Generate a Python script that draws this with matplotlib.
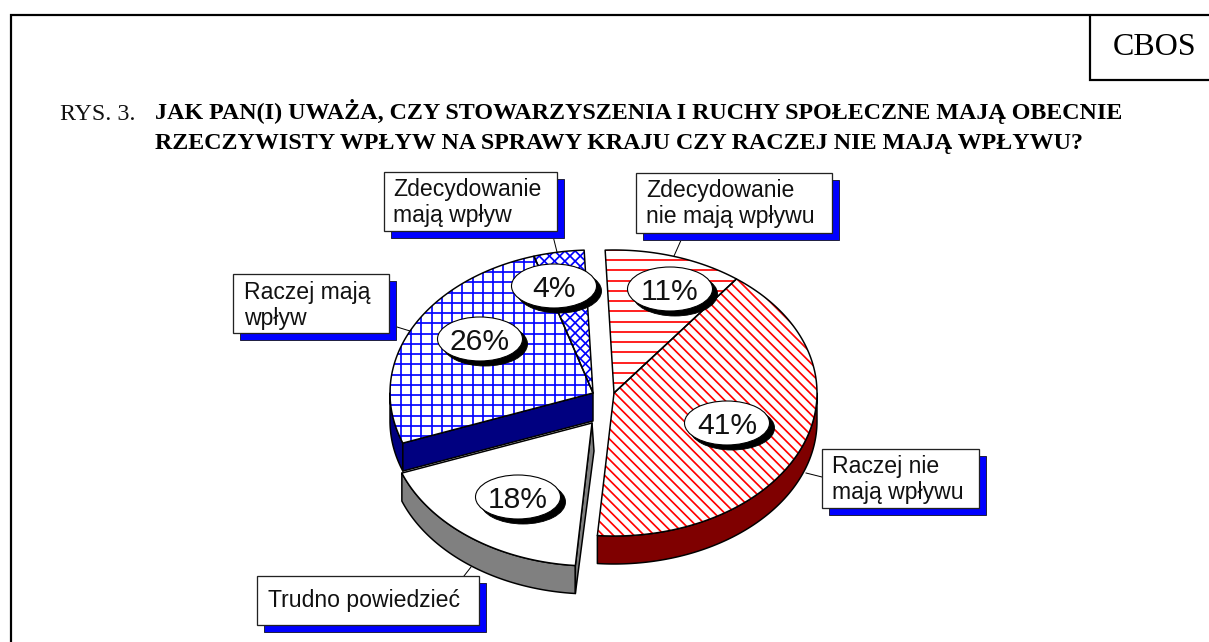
import numpy as np
import matplotlib
matplotlib.use("Agg")
import matplotlib.pyplot as plt
from matplotlib.patches import Polygon, Ellipse, Rectangle
from matplotlib.collections import LineCollection

# ---- data
slice_names = ["Zdecydowanie nie mają wpływu", "Raczej nie mają wpływu", "Trudno powiedzieć",
               "Raczej mają wpływ", "Zdecydowanie mają wpływ"]
slice_values = [11, 41, 18, 26, 4]
title_prefix = "RYS. 3."
title_line1 = "JAK PAN(I) UWAŻA, CZY STOWARZYSZENIA I RUCHY SPOŁECZNE MAJĄ OBECNIE"
title_line2 = "RZECZYWISTY WPŁYW NA SPRAWY KRAJU CZY RACZEJ NIE MAJĄ WPŁYWU?"
source_tag = "CBOS"
label_texts = [["Zdecydowanie", "nie mają wpływu"], ["Raczej nie", "mają wpływu"], ["Trudno powiedzieć"],
               ["Raczej mają", "wpływ"], ["Zdecydowanie", "mają wpływ"]]

# ---- layout (pixels)
DPI = 62
W, H = 1209, 642
def px(n):
    return n * 72.0 / DPI

plt.rcParams['font.family'] = ['Liberation Sans', 'DejaVu Sans']

START = -2.5
A, B, DEPTH = 203.0, 143.0, 28.0
PERIOD = 10.27
centers = [(614, 393), (614, 393), (592, 423), (593, 393), (593, 393)]
# hatch families: (kind, phase)
hatches = [[('h', 260.0)], [('d', 191.0)], [], [('v', 421.3), ('h', 261.7)], [('d', 314.0), ('u', 826.0)]]
hatch_cols = ['#FF0000', '#FF0000', 'black', '#0000FF', '#0000FF']
rim_cols = ['#7F0000', '#7F0000', '#808080', '#000080', '#000080']
bubble_xy = [(670, 289), (727, 423), (518, 497), (480, 339), (554, 286)]
box_xyxy = [(636, 173, 832, 233), (822, 449, 979, 508), (257, 576, 479, 625),
            (233, 274, 389, 333), (384, 172, 557, 231)]
text_xy = [(646, 197), (832, 473), (268, 607), (244, 299), (393, 196)]
leaders = [((682, 238), (674, 256)), ((806, 473), (822, 477)), ((464, 576), (471, 567)),
           ((397, 327), (410, 331)), ((553, 236), (557, 252))]

fig = plt.figure(figsize=(W / DPI, H / DPI), dpi=DPI)
ax = fig.add_axes([0, 0, 1, 1])
ax.set_xlim(0, W)
ax.set_ylim(H, 0)
ax.axis('off')

def pt(c, deg):
    t = np.radians(deg)
    return np.column_stack([c[0] + A * np.sin(t), c[1] - B * np.cos(t)])

def arc(c, a0, a1):
    return pt(c, np.linspace(a0, a1, max(int(abs(a1 - a0)) * 2, 2)))

def hatch_segments(kind, phase):
    ks = np.arange(-200, 201)
    vals = phase + ks * PERIOD
    if kind == 'h':
        return [[(0, v), (W, v)] for v in vals]
    if kind == 'v':
        return [[(v, 0), (v, H)] for v in vals]
    if kind == 'd':   # x - y = v
        return [[(v, 0), (v + H, H)] for v in vals]
    return [[(v, 0), (v - H, H)] for v in vals]   # x + y = v

# frame
LW = px(2.2)
ax.plot([11, 11, W], [H, 15, 15], color='black', lw=LW, solid_capstyle='butt', solid_joinstyle='miter')
ax.plot([W, 1090, 1090], [80, 80, 15], color='black', lw=LW, solid_capstyle='butt', solid_joinstyle='miter')
ax.text(1155, 55, source_tag, family='Liberation Serif', fontsize=px(32), ha='center', va='baseline')
ax.text(60, 119.5, title_prefix, family='Liberation Serif', fontsize=px(24), va='baseline', color='#111111')
ax.text(155, 119.5, title_line1, family='Liberation Serif', weight='bold', fontsize=px(24), va='baseline')
ax.text(155, 149, title_line2, family='Liberation Serif', weight='bold', fontsize=px(24), va='baseline')

# leaders
for (p, q) in leaders:
    ax.plot([p[0], q[0]], [p[1], q[1]], color='black', lw=px(1), zorder=1)

# pie
edges = START + np.cumsum([0] + slice_values) * 3.6
OUT = dict(edgecolor='black', linewidth=px(1.5), joinstyle='round')
for i, v in enumerate(slice_values):
    a0, a1 = edges[i], edges[i + 1]
    c = centers[i]
    # rim
    lo, hi = max(a0, 90), min(a1, 270)
    if hi > lo:
        top = arc(c, lo, hi)
        poly = np.vstack([top, (top + [0, DEPTH])[::-1]])
        ax.add_patch(Polygon(poly, facecolor=rim_cols[i], zorder=2, **OUT))

# blue cut wall
cb = centers[3]
corner = pt(cb, edges[3])[0]
ax.add_patch(Polygon([cb, corner, corner + [0, DEPTH], [cb[0], cb[1] + DEPTH]],
                     facecolor='#000080', zorder=2.5, **OUT))
# white cut wall
cw = centers[2]
front = pt(cw, edges[2])[0]
ax.add_patch(Polygon([cw, front, front + [0, DEPTH], [cw[0] + 2, cw[1] + DEPTH]],
                     facecolor='#808080', zorder=2.5, **OUT))

for i, v in enumerate(slice_values):
    a0, a1 = edges[i], edges[i + 1]
    c = centers[i]
    poly = np.vstack([[c], arc(c, a0, a1)])
    face = Polygon(poly, facecolor='white', edgecolor='none', zorder=3)
    ax.add_patch(face)
    for kind, phase in hatches[i]:
        lc = LineCollection(hatch_segments(kind, phase), colors=hatch_cols[i], linewidths=px(1.7), zorder=3.2)
        ax.add_collection(lc)
        lc.set_clip_path(face)
    ax.add_patch(Polygon(poly, fill=False, zorder=3.5, **OUT))

# label boxes
for (x0, y0, x1, y1), (tx, ty), lines in zip(box_xyxy, text_xy, label_texts):
    ax.add_patch(Rectangle((x0 + 7, y0 + 7), x1 - x0, y1 - y0, facecolor='#0000FF', edgecolor='#222244',
                           linewidth=px(1), zorder=5))
    ax.add_patch(Rectangle((x0, y0), x1 - x0, y1 - y0, facecolor='white', edgecolor='#222222',
                           linewidth=px(1.3), zorder=6))
    for k, s in enumerate(lines):
        ax.text(tx, ty + 26 * k, s, fontsize=px(23), va='baseline', color='#111111', zorder=7)

# bubbles
for (bx, by), v in zip(bubble_xy, slice_values):
    ax.add_patch(Ellipse((bx + 5, by + 5), 85, 44, facecolor='black', edgecolor='black', zorder=8))
    ax.add_patch(Ellipse((bx, by), 85, 44, facecolor='white', edgecolor='black', linewidth=px(1.1), zorder=9))
    ax.text(bx, by + 11, f"{v}%", fontsize=px(30), ha='center', va='baseline', color='#111111', zorder=10)

fig.savefig("out.png", dpi=DPI)
